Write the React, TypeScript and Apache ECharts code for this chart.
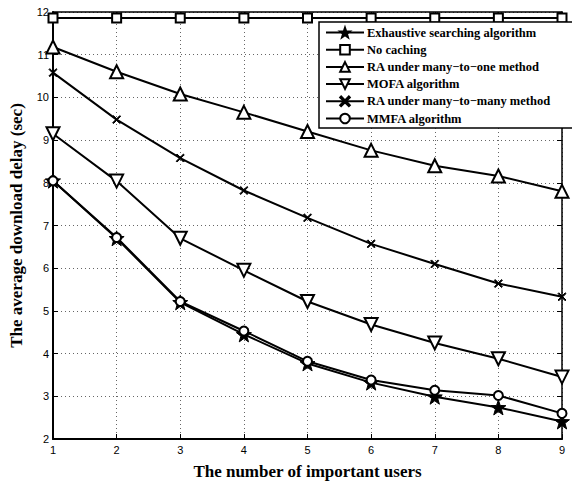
import React, { useEffect, useRef } from "react";
import * as echarts from "echarts";

const xValues = [1, 2, 3, 4, 5, 6, 7, 8, 9];
const seriesNames = [
  "Exhaustive searching algorithm",
  "No caching",
  "RA under many\u2212to\u2212one method",
  "MOFA algorithm",
  "RA under many\u2212to\u2212many method",
  "MMFA algorithm",
];
const exhaustive = [8.05, 6.7, 5.2, 4.45, 3.77, 3.32, 2.99, 2.74, 2.41];
const noCaching = [11.86, 11.86, 11.86, 11.86, 11.86, 11.86, 11.86, 11.86, 11.86];
const raManyToOne = [11.18, 10.6, 10.08, 9.65, 9.2, 8.76, 8.4, 8.16, 7.8];
const mofa = [9.15, 8.04, 6.7, 5.95, 5.22, 4.68, 4.25, 3.88, 3.45];
const raManyToMany = [10.58, 9.48, 8.58, 7.82, 7.18, 6.57, 6.1, 5.64, 5.33];
const mmfa = [8.05, 6.72, 5.22, 4.53, 3.82, 3.38, 3.14, 3.02, 2.6];

const STAR =
  "path://M0,-10L2.35,-3.24L9.51,-3.09L3.8,1.24L5.88,8.09L0,4L-5.88,8.09L-3.8,1.24L-9.51,-3.09L-2.35,-3.24Z";
const XMARK =
  "path://M-5,-4L-4,-5L0,-1L4,-5L5,-4L1,0L5,4L4,5L0,1L-4,5L-5,4L-1,0Z";

export default function App() {
  const ref = useRef<HTMLDivElement>(null);
  useEffect(() => {
    if (!ref.current) return;
    const chart = echarts.init(ref.current, undefined, { renderer: "svg" });
    const pair = (arr: number[]) => arr.map((v, i) => [xValues[i], v]);
    const base = (name: string, data: number[], symbol: string, size: number, hollow: boolean, rotate = 0) => ({
      name,
      type: "line",
      data: pair(data),
      symbol,
      symbolSize: size,
      symbolRotate: rotate,
      showAllSymbol: true,
      lineStyle: { color: "#000", width: 2 },
      itemStyle: hollow
        ? { color: "#fff", borderColor: "#000", borderWidth: 2 }
        : { color: "#000", borderColor: "#000", borderWidth: 1 },
      emphasis: { disabled: true },
      z: 3,
    });
    const axisFont = { fontFamily: "Liberation Sans", fontSize: 11, color: "#000" };
    const titleFont = { fontFamily: "Liberation Serif", fontWeight: "bold", fontSize: 17, color: "#000" };
    chart.setOption({
      animation: false,
      backgroundColor: "#fff",
      grid: { left: 52, right: 10, top: 12, bottom: 40 },
      legend: {
        orient: "vertical",
        left: 319,
        top: 22,
        width: 238,
        padding: [4, 24, 3, 6],
        itemWidth: 38,
        itemHeight: 12,
        itemGap: 4.2,
        backgroundColor: "#fff",
        borderColor: "#000",
        borderWidth: 1.5,
        borderRadius: 0,
        textStyle: {
          fontFamily: "Liberation Serif",
          fontWeight: "bold",
          fontSize: 12.5,
          lineHeight: 12,
          color: "#000",
          padding: [0, 0, 0, -2],
        },
        data: seriesNames,
      },
      xAxis: [
        {
          type: "value",
          min: 1,
          max: 9,
          interval: 1,
          name: "The number of important users",
          nameLocation: "middle",
          nameGap: 24,
          nameTextStyle: titleFont,
          axisLine: { show: true, onZero: false, lineStyle: { color: "#000", width: 2 } },
          axisTick: { show: true, inside: true, length: 5, lineStyle: { color: "#000" } },
          axisLabel: { ...axisFont, margin: 5 },
          splitLine: { show: true, lineStyle: { color: "#666", type: [1, 3], width: 1 } },
        },
        {
          type: "value",
          position: "top",
          min: 1,
          max: 9,
          interval: 1,
          axisLine: { show: true, onZero: false, lineStyle: { color: "#000", width: 1.5 } },
          axisTick: { show: true, inside: true, length: 5, lineStyle: { color: "#000" } },
          axisLabel: { show: false },
          splitLine: { show: false },
        },
      ],
      yAxis: [
        {
          type: "value",
          min: 2,
          max: 12,
          interval: 1,
          name: "The average download delay (sec)",
          nameLocation: "middle",
          nameGap: 28,
          nameTextStyle: titleFont,
          axisLine: { show: true, onZero: false, lineStyle: { color: "#000", width: 2 } },
          axisTick: { show: true, inside: true, length: 5, lineStyle: { color: "#000" } },
          axisLabel: { ...axisFont, margin: 4 },
          splitLine: { show: true, lineStyle: { color: "#666", type: [1, 3], width: 1 } },
        },
        {
          type: "value",
          position: "right",
          min: 2,
          max: 12,
          interval: 1,
          axisLine: { show: true, onZero: false, lineStyle: { color: "#000", width: 1.5 } },
          axisTick: { show: true, inside: true, length: 5, lineStyle: { color: "#000" } },
          axisLabel: { show: false },
          splitLine: { show: false },
        },
      ],
      series: [
        base(seriesNames[0], exhaustive, STAR, 15, false),
        base(seriesNames[1], noCaching, "rect", 9, true),
        base(seriesNames[2], raManyToOne, "triangle", 13, true),
        base(seriesNames[3], mofa, "triangle", 13, true, 180),
        base(seriesNames[4], raManyToMany, XMARK, 8, false),
        base(seriesNames[5], mmfa, "circle", 9, true),
      ],
    });
    return () => chart.dispose();
  }, []);
  return (
    <div
      ref={ref}
      style={{ position: "absolute", left: 0, top: 0, width: 572, height: 485 }}
    />
  );
}
